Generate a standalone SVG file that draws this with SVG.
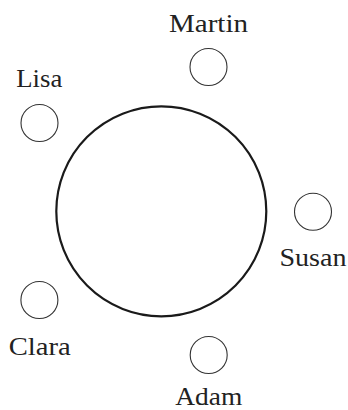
<svg xmlns="http://www.w3.org/2000/svg" width="348" height="410" viewBox="0 0 348 410">
<style>
.big{fill:none;stroke:#1a1a1a;stroke-width:2.2}
.node{fill:none;stroke:#333;stroke-width:1.1}
.lbl{font-family:"Liberation Serif","Times New Roman",serif;font-size:25px;fill:#222;text-anchor:middle}
</style>
<rect width="348" height="410" fill="#fff"/>
<g id="table"><circle class="big" cx="161.3" cy="211.3" r="105"/></g>
<g id="connectors"></g>
<g id="martin"><circle class="node" cx="208.5" cy="67" r="18.5"/><text class="lbl" x="208.5" y="31.5" textLength="79" lengthAdjust="spacingAndGlyphs">Martin</text></g>
<g id="lisa"><circle class="node" cx="39.5" cy="123" r="18.5"/><text class="lbl" x="39.3" y="86.5" textLength="46" lengthAdjust="spacingAndGlyphs">Lisa</text></g>
<g id="susan"><circle class="node" cx="313" cy="211.7" r="18.5"/><text class="lbl" x="313" y="266" textLength="67" lengthAdjust="spacingAndGlyphs">Susan</text></g>
<g id="clara"><circle class="node" cx="39.4" cy="300" r="18.5"/><text class="lbl" x="39.7" y="355" textLength="62" lengthAdjust="spacingAndGlyphs">Clara</text></g>
<g id="adam"><circle class="node" cx="208.7" cy="355" r="18.5"/><text class="lbl" x="208.8" y="405" textLength="67" lengthAdjust="spacingAndGlyphs">Adam</text></g>
</svg>
